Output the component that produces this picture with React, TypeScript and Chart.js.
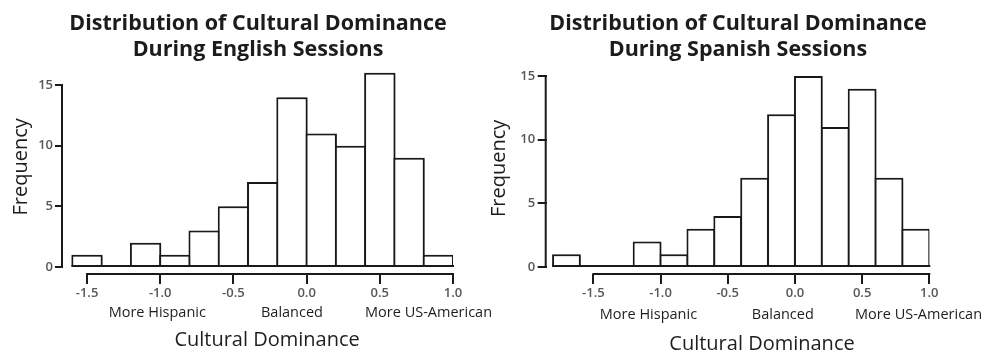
import React, { useEffect, useRef } from 'react';
import { Chart, registerables } from 'chart.js';

Chart.register(...registerables);

// ---------- data ----------
const BIN_WIDTH = 0.2;
const englishBinCenters = [-1.5, -1.3, -1.1, -0.9, -0.7, -0.5, -0.3, -0.1, 0.1, 0.3, 0.5, 0.7, 0.9];
const englishCounts = [1, 0, 2, 1, 3, 5, 7, 14, 11, 10, 16, 9, 1];
const spanishBinCenters = [-1.7, -1.5, -1.3, -1.1, -0.9, -0.7, -0.5, -0.3, -0.1, 0.1, 0.3, 0.5, 0.7, 0.9];
const spanishCounts = [1, 0, 0, 2, 1, 3, 4, 7, 12, 15, 11, 14, 7, 3];

const xTickValues = [-1.5, -1.0, -0.5, 0.0, 0.5, 1.0];
const xTickLabels = ['-1.5', '-1.0', '-0.5', '0.0', '0.5', '1.0'];
const yTickValues = [0, 5, 10, 15];
const dominanceLabels = ['More Hispanic', 'Balanced', 'More US-American'];
const englishDominancePositions = [-1.02, -0.1, 0.833];
const spanishDominancePositions = [-1.09, -0.09, 0.92];
const xAxisTitle = 'Cultural Dominance';
const englishTitlePos = -0.27;
const spanishTitlePos = -0.245;
const englishTitle = ['Distribution of Cultural Dominance', 'During English Sessions'];
const spanishTitle = ['Distribution of Cultural Dominance', 'During Spanish Sessions'];

const FONT = "'Open Sans', 'DejaVu Sans', sans-serif";
const INK = '#1a1a1a';
const GRAY = '#575757';

const shadowPlugin = {
  id: 'barShadow',
  beforeDatasetsDraw(chart: any) {
    const ctx = chart.ctx;
    ctx.save();
    ctx.shadowColor = 'rgba(0,0,0,0.33)';
    ctx.shadowBlur = 2.5;
    ctx.shadowOffsetX = 1.5;
    ctx.shadowOffsetY = 1;
  },
  afterDatasetsDraw(chart: any) {
    chart.ctx.restore();
  },
};

const axisLinePlugin = {
  id: 'axisLine',
  afterDraw(chart: any) {
    const ctx = chart.ctx;
    const xs = chart.scales.x;
    const x2 = chart.scales.x2;
    const ys = chart.scales.y;
    const centers: number[] = chart.data.datasets[0].data.map((d: any) => d.x);
    ctx.save();
    ctx.strokeStyle = INK;
    ctx.lineWidth = 2;
    ctx.lineCap = 'butt';
    ctx.beginPath();
    // separate x axis line, from first to last tick
    ctx.moveTo(x2.getPixelForValue(xTickValues[0]) - 1, x2.top);
    ctx.lineTo(x2.getPixelForValue(xTickValues[xTickValues.length - 1]) + 1, x2.top);
    // histogram baseline
    const y0 = ys.getPixelForValue(0) - 1;
    ctx.moveTo(xs.getPixelForValue(centers[0] - BIN_WIDTH / 2) - 1, y0);
    ctx.lineTo(xs.getPixelForValue(centers[centers.length - 1] + BIN_WIDTH / 2) + 1, y0);
    // y axis line, from 0 to top tick
    const yx = ys.right - 1;
    ctx.moveTo(yx, ys.getPixelForValue(0) + 1);
    ctx.lineTo(yx, ys.getPixelForValue(yTickValues[yTickValues.length - 1]) - 1);
    ctx.stroke();
    ctx.restore();
  },
};

interface Spec {
  title: string[];
  centers: number[];
  counts: number[];
  xMin: number;
  xMax: number;
  yMax: number;
  labelPositions: number[];
  titlePos: number;
  yAxisWidth: number;
  yTickLength: number;
  yTickPad: number;
  yTitlePad: number;
  padRight: number;
  titlePadBottom: number;
  x3Pad: number;
  x4Pad: number;
}

function hiddenLinear(s: Spec, weight: number, height: number) {
  return {
    type: 'linear',
    min: s.xMin,
    max: s.xMax,
    position: 'bottom',
    weight,
    offset: false,
    ticks: { display: false },
    grid: { display: false, drawTicks: false, offset: false },
    border: { display: false },
    afterFit: (sc: any) => {
      sc.height = height;
    },
  };
}

function makeConfig(s: Spec): any {
  return {
    type: 'bar',
    data: {
      datasets: [
        {
          data: s.centers.map((c, i) => ({ x: c, y: s.counts[i] })),
          backgroundColor: '#ffffff',
          borderColor: INK,
          borderWidth: 2,
          borderSkipped: 'start',
          barPercentage: 1.07,
          categoryPercentage: 1,
        },
      ],
    },
    options: {
      animation: false,
      responsive: false,
      maintainAspectRatio: false,
      events: [],
      layout: { padding: { left: 0, top: 0, right: s.padRight, bottom: 0 } },
      plugins: {
        legend: { display: false },
        tooltip: { enabled: false },
        title: {
          display: true,
          text: s.title,
          fullSize: false,
          color: '#1c1c1c',
          font: { family: FONT, size: 21.5, weight: 'bold', lineHeight: 26 / 21.5 },
          padding: { top: 10.5, bottom: s.titlePadBottom },
        },
      },
      scales: {
        x: hiddenLinear(s, 0, 7),
        x2: {
          type: 'linear',
          min: s.xMin,
          max: s.xMax,
          position: 'bottom',
          weight: 1,
          offset: false,
          afterBuildTicks: (sc: any) => {
            sc.ticks = xTickValues.map((v) => ({ value: v }));
          },
          ticks: {
            callback: (_v: any, i: number) => xTickLabels[i],
            autoSkip: false,
            maxRotation: 0,
            color: GRAY,
            font: { family: FONT, size: 13, weight: '600' },
            padding: 1.5,
          },
          grid: {
            display: true,
            offset: false,
            drawOnChartArea: false,
            drawTicks: true,
            tickLength: 10,
            color: INK,
            lineWidth: 2,
          },
          border: { display: false },
          afterFit: (sc: any) => {
            sc.height = 26;
          },
        },
        x3: {
          ...hiddenLinear(s, 2, 26),
          afterBuildTicks: (sc: any) => {
            sc.ticks = s.labelPositions.map((v) => ({ value: v }));
          },
          ticks: {
            display: true,
            callback: (_v: any, i: number) => dominanceLabels[i],
            autoSkip: false,
            maxRotation: 0,
            color: '#1e1e1e',
            font: { family: FONT, size: 14.5 },
            padding: s.x3Pad,
          },
        },
        x4: {
          ...hiddenLinear(s, 3, 30),
          afterBuildTicks: (sc: any) => {
            sc.ticks = [{ value: s.titlePos }];
          },
          ticks: {
            display: true,
            callback: () => xAxisTitle,
            autoSkip: false,
            maxRotation: 0,
            color: '#1e1e1e',
            font: { family: FONT, size: 20 },
            padding: s.x4Pad,
          },
        },
        y: {
          type: 'linear',
          min: 0,
          max: s.yMax,
          afterBuildTicks: (sc: any) => {
            sc.ticks = yTickValues.map((v) => ({ value: v }));
          },
          ticks: {
            color: GRAY,
            font: { family: FONT, size: 13, weight: '600' },
            padding: s.yTickPad,
          },
          grid: {
            drawOnChartArea: false,
            drawTicks: true,
            tickLength: s.yTickLength,
            color: INK,
            lineWidth: 2,
          },
          border: { display: false },
          title: {
            display: true,
            text: 'Frequency',
            color: '#1c1c1c',
            font: { family: FONT, size: 20 },
            padding: { top: s.yTitlePad, bottom: 0 },
          },
          afterFit: (sc: any) => {
            sc.width = s.yAxisWidth;
          },
        },
      },
    },
    plugins: [shadowPlugin, axisLinePlugin],
  };
}

function Histogram({ spec, left, width }: { spec: Spec; left: number; width: number }) {
  const ref = useRef<HTMLCanvasElement | null>(null);
  useEffect(() => {
    if (!ref.current) return;
    const chart = new Chart(ref.current, makeConfig(spec));
    return () => chart.destroy();
  }, [spec]);
  return (
    <canvas
      ref={ref}
      width={width}
      height={356}
      style={{ position: 'absolute', left, top: 0, width, height: 356 }}
    />
  );
}

const englishSpec: Spec = {
  title: englishTitle,
  centers: englishBinCenters,
  counts: englishCounts,
  xMin: -1.664,
  xMax: 1.0,
  yMax: 16.5,
  labelPositions: englishDominancePositions,
  titlePos: englishTitlePos,
  yAxisWidth: 63,
  yTickLength: 8,
  yTickPad: 2,
  yTitlePad: 9,
  padRight: 520 - 453,
  titlePadBottom: 4.3,
  x3Pad: 4.5,
  x4Pad: 2.5,
};

const spanishSpec: Spec = {
  title: spanishTitle,
  centers: spanishBinCenters,
  counts: spanishCounts,
  xMin: -1.847,
  xMax: 1.0,
  yMax: 15.5,
  labelPositions: spanishDominancePositions,
  titlePos: spanishTitlePos,
  yAxisWidth: 76.7,
  yTickLength: 9,
  yTickPad: 2.5,
  yTitlePad: 17,
  padRight: 530 - 459.3,
  titlePadBottom: 7.1,
  x3Pad: 6,
  x4Pad: 6.5,
};

export default function App() {
  Chart.defaults.font.family = FONT;
  return (
    <div
      style={{
        position: 'fixed',
        left: 0,
        top: 0,
        width: 985,
        height: 356,
        overflow: 'hidden',
        background: '#ffffff',
      }}
    >
      <Histogram spec={englishSpec} left={0} width={520} />
      <Histogram spec={spanishSpec} left={470} width={530} />
    </div>
  );
}
